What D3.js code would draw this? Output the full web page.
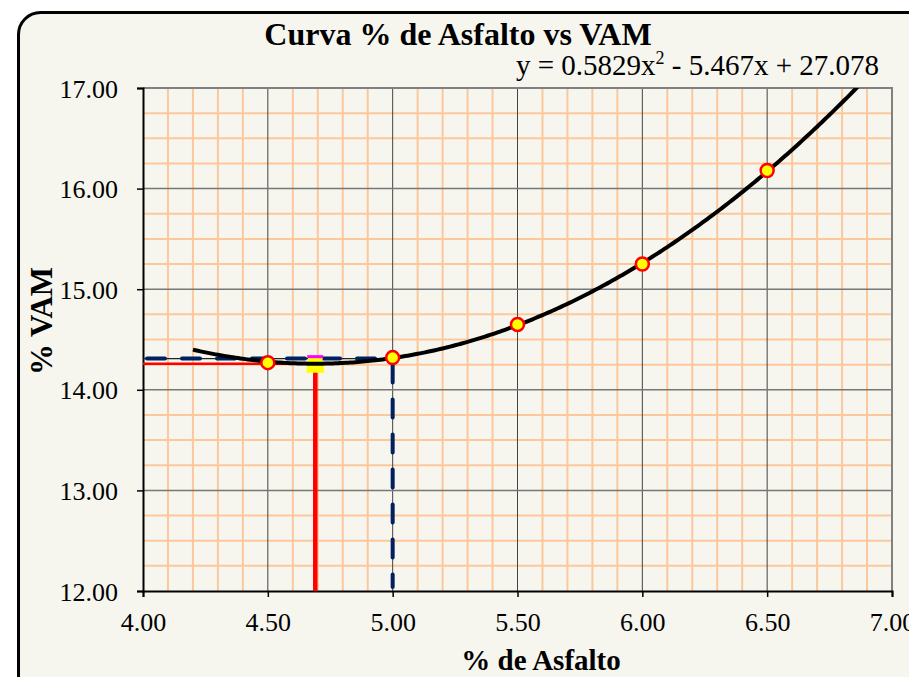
<!DOCTYPE html>
<html><head><meta charset="utf-8">
<script src="https://cdn.jsdelivr.net/npm/d3@7"></script>
<style>body{margin:0;background:#fff;}svg{display:block;}svg text{font-family:"Liberation Serif","Times New Roman",serif !important;}</style>
</head><body><svg id="c" width="909" height="677"></svg>
<script>
const asfalto = [4.5, 5.0, 5.5, 6.0, 6.5];
const vam = [14.27, 14.32, 14.65, 15.25, 16.18];
const coef = [0.5829, -5.467, 27.078];
const trendRange = [4.2, 7.0];
const optimo = [4.69, 14.26];
const referencia = [5.0, 14.31];
const xTicks = [4.0, 4.5, 5.0, 5.5, 6.0, 6.5, 7.0];
const yTicks = [12, 13, 14, 15, 16, 17];

const svg = d3.select("#c");
svg.append("rect").attr("x",18.5).attr("y",12.5).attr("width",940).attr("height",700).attr("rx",22)
  .attr("fill","#f6f6ef").attr("stroke","#000").attr("stroke-width",3);

const L=143,R=892,T=88,B=591;
const x=d3.scaleLinear().domain([4,7]).range([L,R]);
const y=d3.scaleLinear().domain([12,17]).range([B,T]);

const g=svg.append("g");
// minor grid
const xMinor=d3.range(4,7.0001,0.1).filter(v=>Math.abs(v*2-Math.round(v*2))>1e-6);
const yMinor=d3.range(12,17.0001,0.25).filter(v=>Math.abs(v-Math.round(v))>1e-6);
g.selectAll(".xm").data(xMinor).join("line").attr("x1",d=>x(d)).attr("x2",d=>x(d)).attr("y1",T).attr("y2",B)
  .attr("stroke","#fcc89b").attr("stroke-width",2);
g.selectAll(".ym").data(yMinor).join("line").attr("y1",d=>y(d)).attr("y2",d=>y(d)).attr("x1",L).attr("x2",R)
  .attr("stroke","#fcc89b").attr("stroke-width",2);
// major grid
g.selectAll(".xM").data(xTicks.slice(1,-1)).join("line").attr("x1",d=>x(d)).attr("x2",d=>x(d)).attr("y1",T).attr("y2",B)
  .attr("stroke","#444").attr("stroke-width",1);
g.selectAll(".yM").data(yTicks.slice(1,-1)).join("line").attr("y1",d=>y(d)).attr("y2",d=>y(d)).attr("x1",L).attr("x2",R)
  .attr("stroke","#777").attr("stroke-width",1.5);
// border top/right
g.append("path").attr("d",`M${L},${T}H${R}V${B}`).attr("fill","none").attr("stroke","#808080").attr("stroke-width",2);

// axes
const xa=svg.append("g").attr("transform",`translate(0,${B})`)
  .call(d3.axisBottom(x).tickValues(xTicks).tickFormat(d3.format(".2f")).tickSize(6).tickPadding(16));
const ya=svg.append("g").attr("transform",`translate(${L},0)`)
  .call(d3.axisLeft(y).tickValues(yTicks).tickFormat(d3.format(".2f")).tickSize(6).tickPadding(19));
[xa,ya].forEach(a=>{a.attr("font-family",null).attr("font-size",26);
  a.select(".domain").attr("stroke","#000").attr("stroke-width",2);
  a.selectAll(".tick line").attr("stroke","#000").attr("stroke-width",1.5);
  a.selectAll("text").attr("font-size",26).attr("fill","#000");});
ya.selectAll("text").attr("dy","0.35em");

// red optimum lines
svg.append("path").attr("d",`M${x(4)},${y(optimo[1])}H${x(optimo[0])}`).attr("stroke","#ff0000").attr("stroke-width",2.5).attr("fill","none");
svg.append("path").attr("d",`M${x(optimo[0])},${y(optimo[1])}V${y(12)}`).attr("stroke","#ff0000").attr("stroke-width",4.5).attr("fill","none");

// navy dashed reference lines
svg.append("path").attr("d",`M${x(4)},${y(referencia[1])}H${x(referencia[0])}`).attr("stroke","#222").attr("stroke-width",1.2).attr("fill","none");
svg.append("path").attr("d",`M${x(4)+4},${y(referencia[1])}H${x(referencia[0])}`).attr("stroke","#002060").attr("stroke-width",4)
  .attr("stroke-dasharray","18,17").attr("stroke-linecap","round").attr("fill","none");
svg.append("path").attr("d",`M${x(referencia[0])},${y(referencia[1])+6}V${y(12)-4}`).attr("stroke","#002060").attr("stroke-width",4)
  .attr("stroke-dasharray","18,17").attr("stroke-linecap","round").attr("fill","none");

// optimum marker triangle
const tx=x(optimo[0]), ty=y(optimo[1]);
svg.append("path").attr("d",`M${tx-7},${ty-7}L${tx+7},${ty-7}L${tx+9},${ty+9}L${tx-9},${ty+9}Z`)
  .attr("fill","#ffff00").attr("stroke","none");
svg.append("path").attr("d",`M${tx-8},${ty-7}H${tx+8}`).attr("stroke","#ff00ff").attr("stroke-width",3);

// trendline
const f=v=>coef[0]*v*v+coef[1]*v+coef[2];
const xs=d3.range(trendRange[0],trendRange[1]+1e-9,0.01);
svg.append("defs").append("clipPath").attr("id","pc").append("rect").attr("x",L).attr("y",T).attr("width",R-L).attr("height",B-T);
svg.append("path").datum(xs).attr("clip-path","url(#pc)")
  .attr("d",d3.line().x(d=>x(d)).y(d=>y(f(d))))
  .attr("fill","none").attr("stroke","#000").attr("stroke-width",4);

// points
svg.selectAll(".pt").data(asfalto).join("circle").attr("cx",d=>x(d)).attr("cy",(d,i)=>y(vam[i])).attr("r",6.5)
  .attr("fill","#ffff00").attr("stroke","#ff0000").attr("stroke-width",2.5);

// texts
svg.append("text").attr("x",458).attr("y",45).attr("text-anchor","middle").attr("font-weight","bold").attr("font-size",32).text("Curva % de Asfalto vs VAM");
const eq=svg.append("text").attr("x",879).attr("y",75).attr("text-anchor","end").attr("font-size",29);
eq.append("tspan").text("y = 0.5829x");
eq.append("tspan").attr("font-size",18).attr("dy",-11).text("2");
eq.append("tspan").attr("dy",11).text(" - 5.467x + 27.078");
svg.append("text").attr("x",541).attr("y",670).attr("text-anchor","middle").attr("font-weight","bold").attr("font-size",29).text("% de Asfalto");
svg.append("text").attr("transform","translate(52,321) rotate(-90)").attr("text-anchor","middle").attr("font-weight","bold").attr("font-size",31).text("% VAM");
</script></body></html>
